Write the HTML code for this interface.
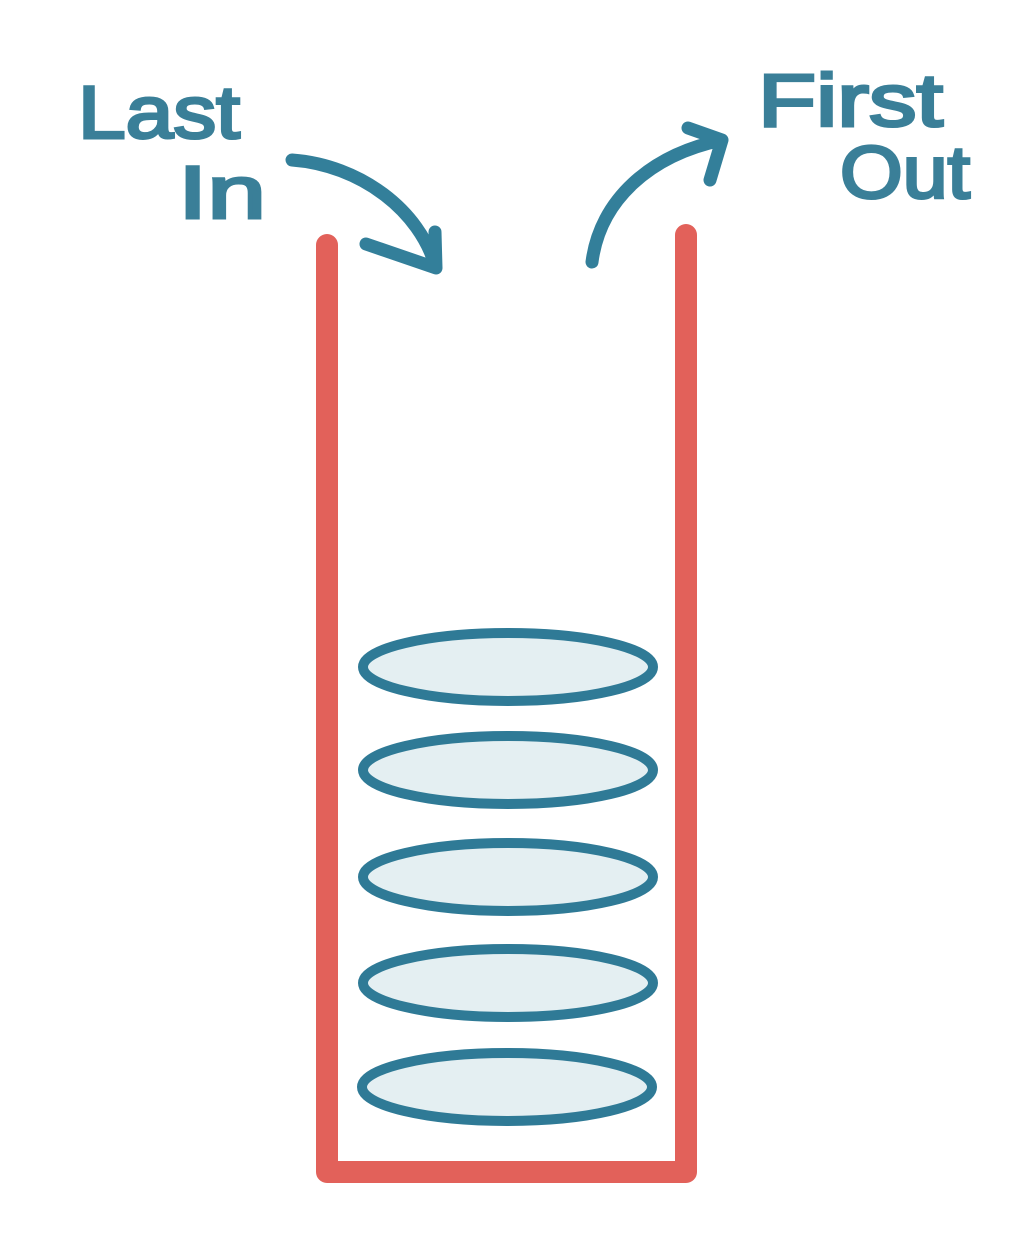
<!DOCTYPE html>
<html><head><meta charset="utf-8"><style>
html,body{margin:0;padding:0;background:#fff;width:1024px;height:1235px;overflow:hidden}
svg text{font-family:"Liberation Sans",sans-serif;fill:#3a7f98;stroke:#3a7f98;stroke-width:3}
</style></head><body>
<svg width="1024" height="1235" viewBox="0 0 1024 1235">
<g>
<text x="78" y="138" font-size="74" textLength="162" lengthAdjust="spacingAndGlyphs">Last</text>
<text x="178" y="218" font-size="74" textLength="88" lengthAdjust="spacingAndGlyphs">In</text>
</g>
<g>
<text x="758" y="126" font-size="74" textLength="185" lengthAdjust="spacingAndGlyphs">First</text>
<text x="840" y="198" font-size="74" textLength="130" lengthAdjust="spacingAndGlyphs">Out</text>
</g>
<g fill="none" stroke="#337f9a" stroke-width="13" stroke-linecap="round" stroke-linejoin="round">
<path d="M292 160 C360 165 420 210 436 268 M366 244 L436 268 L435 232"/>
<path d="M592 262 C600 200 650 155 722 140 M688 128 L722 140 L710 180"/>
</g>
<path d="M327 245 L327 1172 L686 1172 L686 235" fill="none" stroke="#e2615a" stroke-width="22" stroke-linecap="round" stroke-linejoin="round"/>
<g fill="#e4eff2" stroke="#2f7a96" stroke-width="10">
<ellipse cx="508" cy="667" rx="145" ry="34"/>
<ellipse cx="508" cy="770" rx="145" ry="34"/>
<ellipse cx="508" cy="877" rx="145" ry="34"/>
<ellipse cx="508" cy="983" rx="145" ry="34"/>
<ellipse cx="507" cy="1087" rx="145" ry="34"/>
</g>
</svg>
</body></html>
